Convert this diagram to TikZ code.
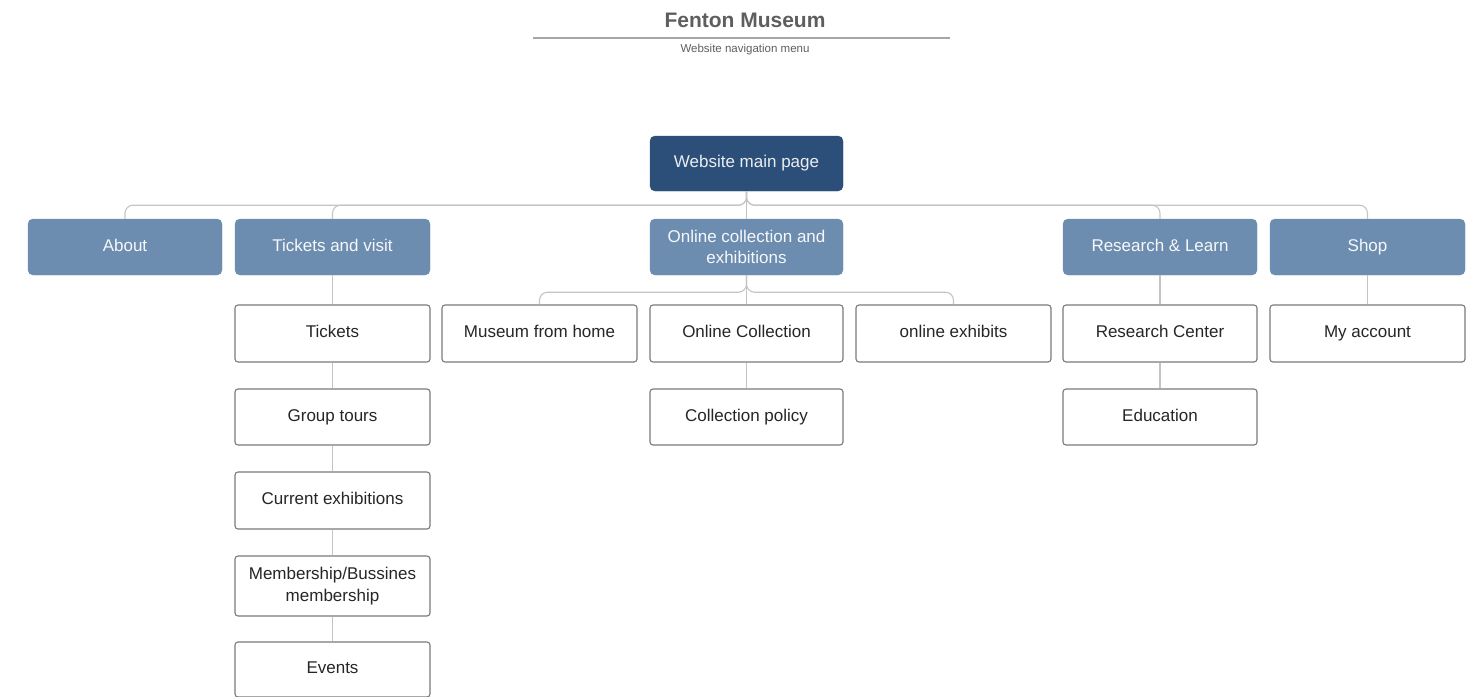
\documentclass[tikz,border=0pt]{standalone}
\usepackage{fontspec}
\setmainfont{Liberation Sans}
\definecolor{maindark}{HTML}{2C4F79}
\definecolor{levelone}{HTML}{6D8DB0}
\definecolor{connc}{HTML}{C4C4C4}
\definecolor{boxline}{HTML}{7A7A7A}
\definecolor{titlec}{HTML}{5E5E5E}
\begin{document}
\begin{tikzpicture}[x=1pt,y=-1pt,
  boxtext/.style={font=\fontsize{17}{21.5}\selectfont, align=center, inner sep=0pt, text height=12.5pt, text depth=4pt},
  mainbox/.style={boxtext, rectangle, rounded corners=5pt, fill=maindark, draw=maindark, text=white!90!maindark, minimum width=193pt, minimum height=55pt},
  lvlbox/.style={boxtext, rectangle, rounded corners=5pt, fill=levelone, draw=levelone, text=white!94!levelone, minimum width=194pt, minimum height=56pt},
  leafbox/.style={boxtext, rectangle, rounded corners=3pt, fill=white, draw=boxline, line width=1.1pt, text=black!85, minimum width=194pt, minimum height=56pt},
  conn/.style={draw=connc, line width=1.1pt, rounded corners=8pt}
]
\useasboundingbox (0,0) rectangle (1469,696);
\begin{scope}
\clip (0,0) rectangle (1469,696);
% title
\node[font=\fontsize{21}{25}\selectfont\bfseries, text=titlec, inner sep=0pt] (title) at (745,20) {Fenton Museum};
\coordinate (tl) at (533,38);
\coordinate (tr) at (950,38);
\draw[draw=black!35, line width=1.6pt] (tl) -- (tr);
\node[font=\fontsize{11.5}{14}\selectfont, text=titlec, inner sep=0pt] (subtitle) at (745,50) {Website navigation menu};

% main
\node[mainbox] (main) at (746.5,163.5) {Website main page};

% level one
\node[lvlbox] (about) at (125,247) {About};
\node[lvlbox, minimum width=195pt] (tv) at (332.5,247) {Tickets and visit};
\node[lvlbox, minimum width=193pt, text height=, text depth=] (online) at (746.5,247) {Online collection and\\exhibitions};
\node[lvlbox] (research) at (1160,247) {Research \& Learn};
\node[lvlbox, minimum width=195pt] (shop) at (1367.5,247) {Shop};

% level two
\node[leafbox, minimum width=195pt, minimum height=57pt] (tickets) at (332.5,333.5) {Tickets};
\node[leafbox, minimum width=195pt, minimum height=57pt] (mfh) at (539.5,333.5) {Museum from home};
\node[leafbox, minimum width=193pt, minimum height=57pt] (oc) at (746.5,333.5) {Online Collection};
\node[leafbox, minimum width=195pt, minimum height=57pt] (oe) at (953.5,333.5) {online exhibits};
\node[leafbox, minimum height=57pt] (rc) at (1160,333.5) {Research Center};
\node[leafbox, minimum width=195pt, minimum height=57pt] (acct) at (1367.5,333.5) {My account};

% deeper
\node[leafbox, minimum width=195pt] (group) at (332.5,417) {Group tours};
\node[leafbox, minimum width=193pt] (policy) at (746.5,417) {Collection policy};
\node[leafbox] (edu) at (1160,417) {Education};
\node[leafbox, minimum width=195pt, minimum height=57pt] (current) at (332.5,500.5) {Current exhibitions};
\node[leafbox, minimum width=195pt, minimum height=60pt, text height=, text depth=] (member) at (332.5,586) {Membership/Bussines\\membership};
\node[leafbox, minimum width=195pt, minimum height=55pt] (events) at (332.5,669.5) {Events};

% connectors main -> level one
\draw[conn] (main.south) -- ++(0,14) -| (about.north);
\draw[conn] (main.south) -- ++(0,14) -| (tv.north);
\draw[conn] (main.south) -- (online.north);
\draw[conn] (main.south) -- ++(0,14) -| (research.north);
\draw[conn] (main.south) -- ++(0,14) -| (shop.north);

% online -> children
\draw[conn] (online.south) -- ++(0,17) -| (mfh.north);
\draw[conn] (online.south) -- (oc.north);
\draw[conn] (online.south) -- ++(0,17) -| (oe.north);
\draw[conn] (oc) -- (policy);

% tickets chain
\draw[conn] (tv) -- (tickets);
\draw[conn] (tickets) -- (group);
\draw[conn] (group) -- (current);
\draw[conn] (current) -- (member);
\draw[conn] (member) -- (events);

% research / shop
\draw[conn] (research) -- (rc);
\draw[conn] (rc) -- (edu);
\draw[conn] (shop) -- (acct);
\end{scope}
\end{tikzpicture}
\end{document}
